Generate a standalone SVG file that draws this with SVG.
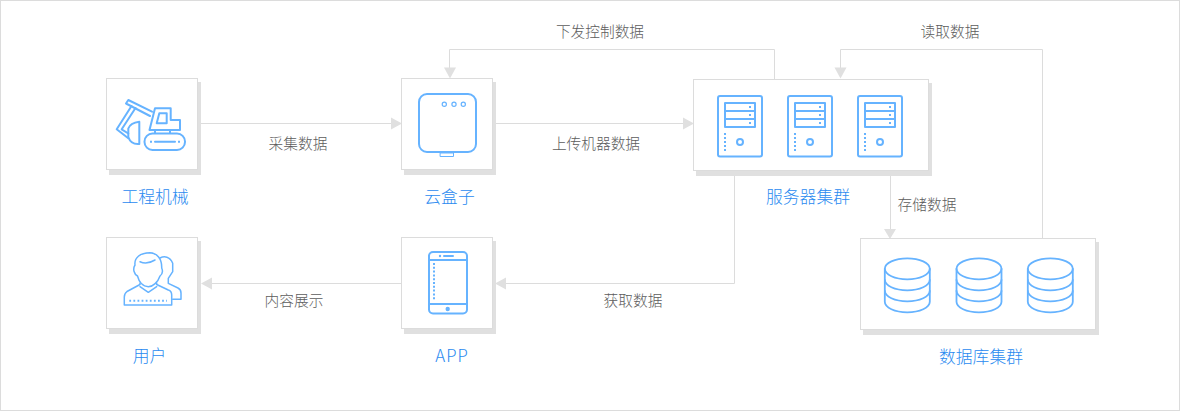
<svg xmlns="http://www.w3.org/2000/svg" width="1180" height="411" viewBox="0 0 1180 411">
<style>
.box{fill:#fff;stroke:#dcdcdc;stroke-width:1}
.sh{fill:#e0e0e0}
.ic{fill:none;stroke:#66b3ff;stroke-width:2;stroke-linejoin:round;stroke-linecap:round}
.thin{stroke-width:1.5}
.dot{fill:#66b3ff;stroke:none}
.dots{fill:none;stroke:#66b3ff;stroke-width:2;stroke-dasharray:2 1.8}
.line{fill:none;stroke:#dcdcdc;stroke-width:1}
.ah{fill:#e0e0e0}
text{font-family:"Noto Sans CJK SC","Noto Sans",sans-serif;font-weight:300}
.nl{font-size:16.8px;fill:#2a8af0;text-anchor:middle}
.el{font-size:14.700px;fill:#5c5c5c;text-anchor:middle}
</style>
<defs>
<g id="srv">
<rect class="ic" x="1" y="1" width="44" height="60.500" rx="2"/>
<rect class="ic" x="8" y="8" width="30" height="24"/>
<path class="ic" d="M8 16H38M8 24H38"/>
<rect class="dot" x="32" y="11" width="2" height="2"/><rect class="dot" x="32" y="19" width="2" height="2"/><rect class="dot" x="32" y="27" width="2" height="2"/>
<path class="dots" style="stroke-dasharray:2 2" d="M8 38V56"/>
<circle class="ic" cx="23" cy="47" r="3"/>
</g>
<g id="db" style="stroke-width:1.800">
<ellipse class="ic" style="stroke-width:1.800" cx="23" cy="11" rx="22.500" ry="10.500"/>
<path class="ic" style="stroke-width:1.800" d="M0.500 11V44A22.500 10.500 0 0 0 45.500 44V11"/>
<path class="ic" style="stroke-width:1.800" d="M0.500 22A22.500 10.500 0 0 0 45.500 22"/>
<path class="ic" style="stroke-width:1.800" d="M0.500 33A22.500 10.500 0 0 0 45.500 33"/>
</g>
</defs>
<rect x="0.500" y="0.500" width="1179" height="410" fill="#fff" stroke="#dcdcdc"/>
<g id="connectors">
<path class="line" d="M198 123.500H393"/><path class="ah" d="M391 117.500L402 123.500L391 129.500Z"/>
<path class="line" d="M493 123.500H685"/><path class="ah" d="M683 117.500L694 123.500L683 129.500Z"/>
<path class="line" d="M774.500 79V49.500H449.500V69"/><path class="ah" d="M444 67.500L450 78.500L456 67.500Z"/>
<path class="line" d="M1042.500 238V49.500H840.500V69"/><path class="ah" d="M834.500 67.500L840.500 78.500L846.500 67.500Z"/>
<path class="line" d="M890.500 176V231"/><path class="ah" d="M884 229L890 239L896 229Z"/>
<path class="line" d="M734.500 176V283.500H505"/><path class="ah" d="M506 277.500L495 283.500L506 289.500Z"/>
<path class="line" d="M401 283.500H210"/><path class="ah" d="M212 277.500L201 283.500L212 289.500Z"/>
</g>
<g id="excavator">
<rect class="sh" x="109" y="82" width="92" height="93"/><rect class="box" x="106.500" y="78.500" width="91" height="91"/>
<rect class="ic" x="144.500" y="133.500" width="40.500" height="16.500" rx="8"/>
<path class="ic" d="M155 141.700H175"/><path class="dot" d="M150 140.700h2v2h-2zM178 140.700h2v2h-2z"/>
<path class="ic" d="M155 108.300H170.700V120H180V130H149.500ZM159.300 113.300H166.700V123.300H156.700ZM155 130V133M170 130V133"/>
<path class="ic" d="M152 111.700L128.300 100L126 103.500L150 116"/>
<path class="ic" d="M131.500 106L116.700 129.300L128.300 138.300M135.500 108L121.700 129.300L128.300 133.500"/>
<path class="ic" d="M139.300 121.700C133 122.500 129.500 125 128.300 128.500V137C130 142 134 144.500 139.300 144Z"/>
</g>
<g id="cloudbox">
<rect class="sh" x="404" y="82" width="92" height="93"/><rect class="box" x="401.500" y="78.500" width="91" height="91"/>
<rect class="ic" x="419" y="94" width="57" height="58" rx="8"/>
<circle class="ic" style="stroke-width:1.200" cx="444.300" cy="104.300" r="2.100"/><circle class="ic" style="stroke-width:1.200" cx="454" cy="104.300" r="2.100"/><circle class="ic" style="stroke-width:1.200" cx="463.300" cy="104.300" r="2.100"/>
<rect class="ic" style="stroke-width:1" x="440.500" y="153" width="13" height="3.500"/>
</g>
<g id="servers">
<rect class="sh" x="696" y="83" width="236" height="93"/><rect class="box" x="693.500" y="79.500" width="235" height="91"/>
<use href="#srv" x="717" y="95"/><use href="#srv" x="787" y="95"/><use href="#srv" x="857" y="95"/>
</g>
<g id="user">
<rect class="sh" x="109" y="241" width="92" height="93"/><rect class="box" x="106.500" y="237.500" width="91" height="91"/>
<path class="ic thin" d="M135 265C134 258 140 252.700 150 252.700C157 253 162 259 161.700 268C163 271 162.500 274 160 276C158 282 153 286.700 148.300 286.700C143 286.700 139 282 137.500 276C134 274 132.500 269 135 265Z"/>
<path class="ic thin" d="M140 261.700C145 264 150 263 155 260"/>
<path class="ic thin" d="M140 283V284.500L127 291.500C125 293 124.300 295 124.300 297V305H171.700V295C171.700 292 170 290.500 168.300 290L156.700 284.500V283"/>
<path class="ic thin" d="M140 286.700L148.300 292.300L156.700 286.700"/>
<path class="ic thin" d="M160 258C164 256 170 256 172.700 263.300V271.700L168.300 278.300V283.300L178 288C180 289 181 291 181 293V299.300H172.700"/>
<path class="dots" style="stroke-dasharray:1.800 2.300" d="M129.300 300.800H167"/>
</g>
<g id="app">
<rect class="sh" x="404" y="241" width="92" height="93"/><rect class="box" x="401.500" y="237.500" width="91" height="91"/>
<rect class="ic" x="429" y="252" width="38" height="61.500" rx="4"/>
<path class="ic" d="M429 260H467M429 304H467M444 256H453"/>
<circle class="dot" cx="440" cy="256" r="1.200"/><circle class="dot" cx="447.700" cy="309" r="2.200"/>
<path class="dots" d="M434 263V301"/>
</g>
<g id="database">
<rect class="sh" x="863" y="242" width="236" height="93"/><rect class="box" x="860.500" y="238.500" width="235" height="91"/>
<use href="#db" x="884.300" y="257.800"/><use href="#db" x="956" y="257.800"/><use href="#db" x="1027.300" y="257.800"/>
</g>
<g id="labels">
<text class="nl" x="155" y="202.500">工程机械</text>
<text class="nl" x="449.500" y="202.500">云盒子</text>
<text class="nl" x="808" y="202.500">服务器集群</text>
<text class="nl" x="149.500" y="361.500">用户</text>
<text class="nl" x="452" y="361.500" letter-spacing="1">APP</text>
<text class="nl" x="981" y="362.500">数据库集群</text>
<text class="el" x="298" y="149">采集数据</text>
<text class="el" x="596" y="149">上传机器数据</text>
<text class="el" x="600" y="37">下发控制数据</text>
<text class="el" x="950" y="37">读取数据</text>
<text class="el" x="927" y="210">存储数据</text>
<text class="el" x="633" y="306">获取数据</text>
<text class="el" x="294" y="306">内容展示</text>
</g>
</svg>
